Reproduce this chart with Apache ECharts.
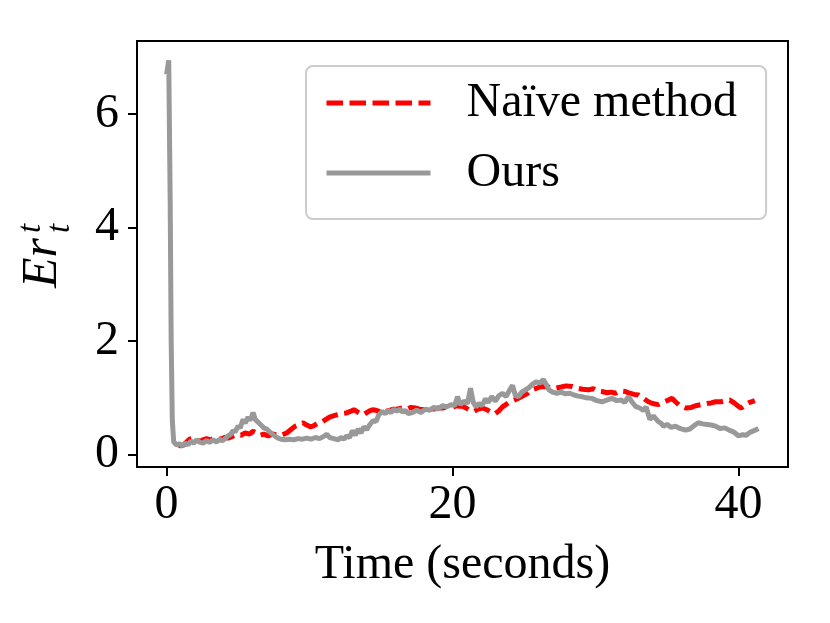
<!DOCTYPE html>
<html>
<head>
<meta charset="utf-8">
<script src="https://cdn.jsdelivr.net/npm/echarts@6/dist/echarts.min.js"></script>
<style>
  html, body { margin: 0; padding: 0; background: #fff; }
  #root { width: 830px; height: 623px; }
</style>
</head>
<body>
<div id="root"></div>
<script>
// values
const timeNaive = [
  0.80, 1.00, 1.20, 1.40, 1.60, 1.86, 2.10, 2.35, 2.55, 2.80, 3.05, 3.30, 3.55, 3.80, 4.05, 4.30,
  4.60, 4.90, 5.20, 5.50, 5.80, 6.05, 6.30, 6.55, 6.80, 7.10, 7.40, 7.70, 8.00, 8.40, 8.70, 9.00,
  9.30, 9.55, 9.80, 10.05, 10.25, 10.50, 10.70, 10.90, 11.15, 11.40, 11.65, 11.90, 12.20, 12.55,
  12.85, 13.10, 13.35, 13.55, 13.75, 14.00, 14.20, 14.40, 14.65, 14.90, 15.15, 15.35, 15.60, 15.85,
  16.10, 16.50, 16.80, 17.10, 17.40, 17.70, 18.10, 18.40, 18.70, 19.00, 19.30, 19.55, 19.75, 20.00,
  20.25, 20.50, 20.70, 20.95, 21.20, 21.50, 21.80, 22.10, 22.40, 22.60, 22.80, 23.00, 23.20, 23.50,
  23.90, 24.20, 24.60, 24.90, 25.20, 25.55, 25.80, 26.10, 26.50, 26.85, 27.20, 27.60, 27.95, 28.35,
  28.70, 29.10, 29.50, 29.85, 30.15, 30.45, 30.80, 31.10, 31.40, 31.75, 32.10, 32.40, 32.70, 33.00,
  33.30, 33.70, 34.00, 34.40, 34.70, 35.10, 35.35, 35.60, 35.90, 36.30, 36.70, 37.00, 37.40, 37.80,
  38.10, 38.40, 38.80, 39.10, 39.40, 39.70, 40.00, 40.20, 40.50, 40.80, 41.15
];
const errNaive = [
  0.18, 0.15, 0.17, 0.22, 0.27, 0.29, 0.26, 0.23, 0.26, 0.28, 0.26, 0.28, 0.30, 0.27, 0.30, 0.29,
  0.32, 0.35, 0.34, 0.38, 0.36, 0.41, 0.38, 0.34, 0.36, 0.33, 0.36, 0.35, 0.34, 0.38, 0.44, 0.50,
  0.53, 0.56, 0.52, 0.49, 0.50, 0.54, 0.57, 0.58, 0.62, 0.66, 0.68, 0.70, 0.72, 0.73,
  0.76, 0.79, 0.75, 0.72, 0.70, 0.74, 0.77, 0.79, 0.78, 0.76, 0.74, 0.76, 0.78, 0.80,
  0.80, 0.82, 0.80, 0.83, 0.82, 0.80, 0.79, 0.81, 0.80, 0.82, 0.82, 0.84, 0.82, 0.83,
  0.86, 0.85, 0.85, 0.82, 0.78, 0.76, 0.80, 0.82, 0.79, 0.76, 0.74, 0.72, 0.76, 0.84,
  0.91, 0.95, 0.99, 1.03, 1.07, 1.14, 1.16, 1.19, 1.20, 1.18, 1.17, 1.19, 1.21, 1.20,
  1.17, 1.15, 1.14, 1.16, 1.12, 1.11, 1.09, 1.10, 1.08, 1.12, 1.11, 1.08, 1.06, 1.05,
  1.00, 0.93, 0.90, 0.88, 0.92, 0.96, 0.99, 0.93, 0.86, 0.82, 0.83, 0.86, 0.88, 0.90,
  0.91, 0.93, 0.93, 0.95, 0.96, 0.91, 0.85, 0.82, 0.88, 0.92, 0.95
];

const timeOurs = [
  0.00, 0.15, 0.25, 0.32, 0.40, 0.50, 0.70, 0.90, 1.10, 1.30, 1.50, 1.70, 1.90, 2.10, 2.30, 2.55,
  2.80, 3.00, 3.25, 3.50, 3.70, 3.90, 4.10, 4.30, 4.50, 4.65, 4.80, 5.00, 5.15, 5.35, 5.50, 5.70,
  5.85, 6.05, 6.20, 6.40, 6.60, 6.80, 7.00, 7.20, 7.40, 7.60, 7.80, 8.00, 8.30, 8.60, 8.90, 9.20,
  9.50, 9.80, 10.10, 10.40, 10.70, 11.00, 11.20, 11.40, 11.70, 12.00, 12.20, 12.40, 12.60, 12.80,
  13.00, 13.20, 13.40, 13.60, 13.80, 14.00, 14.20, 14.45, 14.65, 14.85, 15.10, 15.30, 15.50, 15.70,
  15.90, 16.10, 16.30, 16.50, 16.70, 16.90, 17.20, 17.50, 17.80, 18.10, 18.40, 18.70, 19.00, 19.30,
  19.60, 19.90, 20.15, 20.35, 20.55, 20.80, 21.05, 21.26, 21.45, 21.65, 21.85, 22.07, 22.30, 22.50,
  22.75, 23.00, 23.25, 23.50, 23.75, 24.00, 24.20, 24.40, 24.60, 24.85, 25.10, 25.35, 25.60, 25.85,
  26.10, 26.35, 26.55, 26.75, 27.00, 27.30, 27.60, 27.90, 28.20, 28.50, 28.80, 29.05, 29.35, 29.75,
  30.10, 30.45, 30.80, 31.15, 31.50, 31.80, 32.05, 32.30, 32.55, 32.80, 33.10, 33.35, 33.55, 33.80,
  34.05, 34.40, 34.60, 34.75, 35.00, 35.30, 35.60, 35.90, 36.30, 36.60, 36.90, 37.20, 37.50, 37.80,
  38.10, 38.40, 38.70, 39.05, 39.35, 39.65, 40.00, 40.30, 40.55, 40.80, 41.10, 41.40
];
const errOurs = [
  6.70, 6.95, 4.50, 2.00, 0.60, 0.22, 0.17, 0.19, 0.15, 0.20, 0.17, 0.24, 0.20, 0.26, 0.22, 0.20,
  0.25, 0.21, 0.26, 0.22, 0.27, 0.24, 0.28, 0.33, 0.36, 0.42, 0.40, 0.50, 0.47, 0.62, 0.55, 0.66,
  0.60, 0.74, 0.62, 0.57, 0.52, 0.47, 0.45, 0.40, 0.36, 0.32, 0.29, 0.27, 0.26, 0.27, 0.26, 0.28,
  0.27, 0.29, 0.27, 0.30, 0.28, 0.32, 0.36, 0.30, 0.28, 0.26, 0.30, 0.27, 0.33, 0.30,
  0.42, 0.34, 0.45, 0.38, 0.49, 0.44, 0.52, 0.60, 0.58, 0.70, 0.76, 0.72, 0.78, 0.74,
  0.80, 0.76, 0.80, 0.75, 0.78, 0.72, 0.74, 0.78, 0.74, 0.80, 0.78, 0.83, 0.80, 0.86,
  0.84, 0.88, 0.86, 1.02, 0.88, 0.94, 0.90, 1.17, 0.92, 0.84, 0.90, 0.86, 0.98, 0.92,
  1.02, 0.94, 1.04, 1.08, 1.02, 1.14, 1.22, 1.04, 1.02, 1.10, 1.14, 1.18, 1.24, 1.28,
  1.26, 1.32, 1.24, 1.14, 1.10, 1.08, 1.10, 1.07, 1.08, 1.05, 1.03, 1.02, 1.00, 0.99,
  0.95, 0.93, 0.96, 0.99, 0.95, 0.96, 0.92, 1.02, 0.93, 0.85, 0.82, 0.78, 0.84, 0.62,
  0.68, 0.58, 0.55, 0.50, 0.53, 0.48, 0.50, 0.46, 0.43, 0.45, 0.51, 0.56, 0.54, 0.53,
  0.52, 0.50, 0.46, 0.47, 0.43, 0.40, 0.33, 0.35, 0.34, 0.39, 0.42, 0.46
];

const xTicks = [0, 20, 40];
const yTicks = [0, 2, 4, 6];

const FONT = '"Liberation Serif", "DejaVu Serif", serif';
const RED = '#ff0000';
const GRAY = '#999999';
const DASH = [16.5, 6.5];

var pairs = (xs, ys) => xs.map((x, i) => [x, ys[i]]);

(function () {
  const chart = echarts.init(document.getElementById('root'), null, { renderer: 'canvas' });

  const axisCommon = {
    type: 'value',
    splitLine: { show: false },
    axisLine: { show: true, onZero: false, lineStyle: { color: '#000', width: 2 } },
    axisTick: { show: true, inside: false, length: 9, lineStyle: { color: '#000', width: 2 } },
    axisLabel: { color: '#000', fontFamily: FONT, fontSize: 48 }
  };

  const option = {
    animation: false,
    backgroundColor: '#fff',
    grid: {
      left: 137, top: 41, right: 42, bottom: 156,
      show: true, borderColor: '#000', borderWidth: 2, backgroundColor: 'transparent'
    },
    xAxis: {
      ...axisCommon,
      min: -2.07,
      max: 43.47,
      axisTick: { ...axisCommon.axisTick, customValues: xTicks },
      axisLabel: { ...axisCommon.axisLabel, margin: 14, customValues: xTicks },
      name: 'Time (seconds)',
      nameLocation: 'middle',
      nameGap: 74,
      nameTextStyle: { color: '#000', fontFamily: FONT, fontSize: 48 }
    },
    yAxis: {
      ...axisCommon,
      min: -0.22,
      max: 7.29,
      axisTick: { ...axisCommon.axisTick, customValues: yTicks },
      axisLabel: { ...axisCommon.axisLabel, margin: 18, customValues: yTicks }
    },
    legend: {
      orient: 'vertical',
      left: 306,
      top: 66,
      padding: [5, 29, 14, 18],
      itemWidth: 104,
      itemHeight: 14,
      itemGap: 6,
      borderColor: '#cccccc',
      borderWidth: 2,
      borderRadius: 7,
      backgroundColor: 'rgba(255,255,255,0.8)',
      itemStyle: { opacity: 0 },
      textStyle: {
        color: '#000', fontFamily: FONT, fontSize: 48, lineHeight: 56,
        padding: [8, 0, 0, 31]
      },
      data: [
        { name: 'Naïve method', lineStyle: { color: RED, width: 5, type: DASH } },
        { name: 'Ours', lineStyle: { color: GRAY, width: 5, type: 'solid' } }
      ]
    },
    graphic: [{
      // y axis label Er_t^t, drawn rotated
      type: 'group',
      x: 60,
      y: 288,
      rotation: Math.PI / 2,
      children: [
        { type: 'text', x: 0, y: -17,
          style: { text: 'Er', font: 'italic 50px ' + FONT, fill: '#000', align: 'left', verticalAlign: 'middle' } },
        { type: 'text', x: 55, y: -29,
          style: { text: 't', font: 'italic 33px ' + FONT, fill: '#000', align: 'left', verticalAlign: 'middle' } },
        { type: 'text', x: 55, y: 0,
          style: { text: 't', font: 'italic 33px ' + FONT, fill: '#000', align: 'left', verticalAlign: 'middle' } }
      ]
    }],
    series: [
      {
        name: 'Naïve method',
        type: 'line',
        data: pairs(timeNaive, errNaive),
        showSymbol: false,
        symbol: 'none',
        lineStyle: { color: RED, width: 5, type: DASH },
        itemStyle: { color: RED }
      },
      {
        name: 'Ours',
        type: 'line',
        data: pairs(timeOurs, errOurs),
        showSymbol: false,
        symbol: 'none',
        lineStyle: { color: GRAY, width: 5 },
        itemStyle: { color: GRAY }
      }
    ]
  };

  chart.setOption(option);
})();
</script>
</body>
</html>
